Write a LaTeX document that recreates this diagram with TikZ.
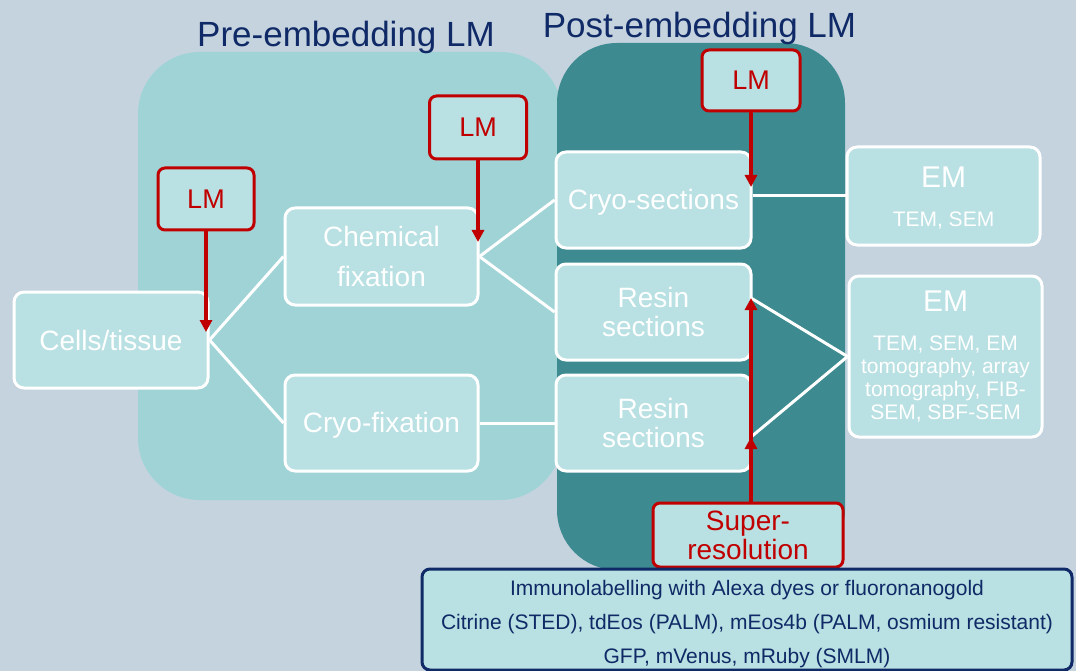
\documentclass[tikz,border=0pt]{standalone}
\usepackage{fontspec}
\setmainfont{Liberation Sans}
\usetikzlibrary{arrows.meta,calc}
\definecolor{bgc}{HTML}{C5D3DF}
\definecolor{prec}{HTML}{9FD3D6}
\definecolor{postc}{HTML}{3D8B90}
\definecolor{boxc}{HTML}{B9E0E2}
\definecolor{redc}{HTML}{C00000}
\definecolor{navyc}{HTML}{0F2A66}
\begin{document}
\begin{tikzpicture}[x=1pt,y=-1pt,
  stepbox/.style={draw=white, line width=3pt, fill=boxc, rounded corners=10pt,
    text=white, font=\fontsize{28}{29}\selectfont, align=center, inner sep=0pt},
  embox/.style={stepbox, font=\fontsize{21}{23}\selectfont},
  lmbox/.style={draw=redc, line width=3pt, fill=boxc, rounded corners=7pt,
    text=redc, font=\fontsize{27}{29}\selectfont, align=center, inner sep=0pt},
  conn/.style={draw=white, line width=3pt},
  redarr/.style={draw=redc, line width=3.5pt, -{Triangle[length=12pt,width=12pt]}},
  title/.style={text=navyc, font=\fontsize{35}{40}\selectfont, anchor=base, inner sep=0pt}
]
\useasboundingbox (0,0) rectangle (1076,671);
\fill[bgc] (0,0) rectangle (1076,671);
% regions
\fill[prec, rounded corners=62pt] (138,52) rectangle (562,500);
\fill[postc, rounded corners=60pt] (557,43) rectangle (845,570);
% titles
\node[title] (pretitle) at (346,47) {Pre-embedding LM};
\node[title] (posttitle) at (699.5,38) {Post-embedding LM};
% step boxes
\node[stepbox, minimum width=194, minimum height=96] (cells) at (111,340) {Cells/tissue};
\node[stepbox, minimum width=193, minimum height=97] (chem) at (381.5,256.5) {Chemical\\[11pt]fixation};
\node[stepbox, minimum width=193, minimum height=96] (cryofix) at (381.5,423) {\rule{0pt}{24pt}Cryo-fixation};
\node[stepbox, minimum width=195, minimum height=96] (cryosec) at (653.5,200) {\rule{0pt}{24pt}Cryo-sections};
\node[stepbox, minimum width=195, minimum height=96] (resin1) at (653.5,312) {Resin\\sections};
\node[stepbox, minimum width=195, minimum height=96] (resin2) at (653.5,423) {Resin\\sections};
\node[embox, minimum width=193, minimum height=98] (em1) at (943.5,196)
  {\rule{0pt}{25pt}{\fontsize{30}{30}\selectfont EM}\\[15.5pt]TEM, SEM};
\node[embox, minimum width=193, minimum height=161] (em2) at (945.5,356.5)
  {{\fontsize{30}{30}\selectfont EM}\\[15.5pt]TEM, SEM, EM\\tomography, array\\tomography, FIB-\\SEM, SBF-SEM};
% LM boxes
\node[lmbox, minimum width=96, minimum height=62] (lm1) at (206,199) {LM};
\node[lmbox, minimum width=97, minimum height=63] (lm2) at (478,127.5) {LM};
\node[lmbox, minimum width=98, minimum height=61] (lm3) at (751,80.5) {LM};
\node[lmbox, minimum width=190, minimum height=64, font=\fontsize{28}{29}\selectfont] (super) at (748,535) {Super-\\resolution};
% bottom box
\node[draw=navyc, line width=3pt, fill=boxc, rounded corners=8pt, minimum width=650,
  minimum height=101, text=navyc, font=\fontsize{21}{34}\selectfont, align=center, inner sep=0pt]
  (labels) at (747,619.5)
  {\rule{0pt}{24pt}Immunolabelling with Alexa dyes or fluoronanogold\\Citrine (STED), tdEos (PALM), mEos4b (PALM, osmium resistant)\\GFP, mVenus, mRuby (SMLM)};
% coordinates
\coordinate (t1) at (206,332);
\coordinate (t2) at (478,242);
\coordinate (t3) at (751,187);
\coordinate (r1) at (751,298);
\coordinate (r2) at (751,437);
\coordinate (sx) at (751,503);
% white connectors
\draw[conn] (cells.east) -- (chem.west);
\draw[conn] (cells.east) -- (cryofix.west);
\draw[conn] (chem.east) -- (cryosec.west);
\draw[conn] (chem.east) -- (resin1.west);
\draw[conn] (cryofix.east) -- (resin2.west);
\draw[conn] (cryosec.east |- em1.west) -- (em1.west);
\draw[conn] (r1) -- (em2.west);
\draw[conn] (r2) -- (em2.west);
% red arrows
\draw[redarr] (lm1.south) -- (t1);
\draw[redarr] (lm2.south) -- (t2);
\draw[redarr] (lm3.south) -- (t3);
\draw[redarr] (sx) -- (r1);
\draw[redarr] (sx) -- (r2);
\end{tikzpicture}
\end{document}
